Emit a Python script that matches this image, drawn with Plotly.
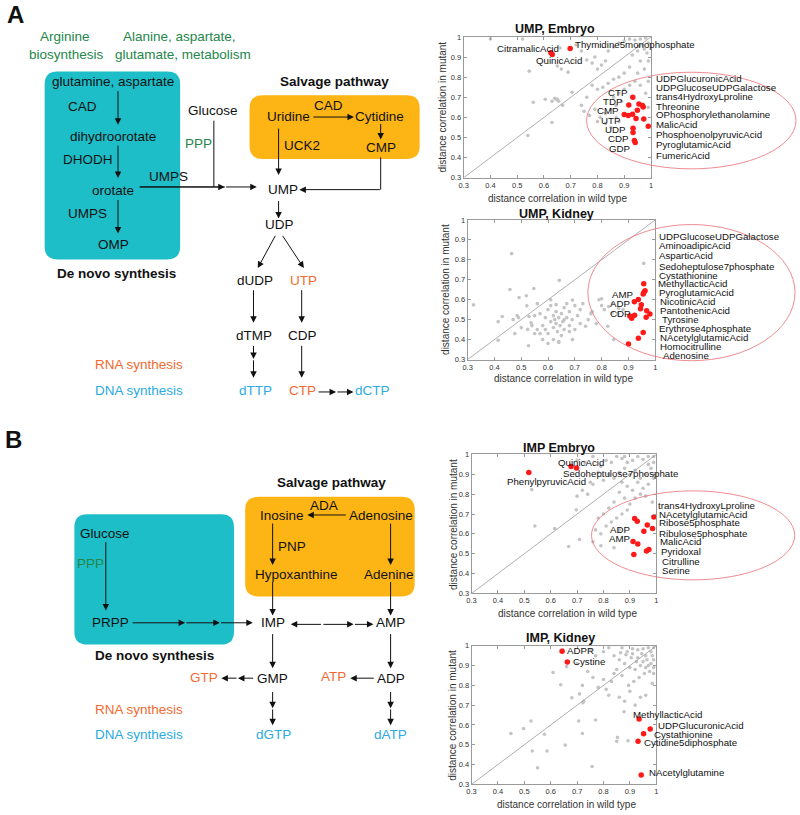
import plotly.graph_objects as go

W, H = 800, 815
FONT = "Liberation Sans, Arial, sans-serif"
BLACK = "#111111"
GREEN = "#24864A"
ORANGE = "#F26A31"
BLUE = "#2AABE2"
TEAL = "#1EBEC8"
GOLD = "#FDB515"
GREY_PT = "#c4c4c4"
RED_PT = "#ff1a1a"

# ---------------- scatter data ----------------
ump_emb_grey_x = [0.40,0.52,0.545,0.56,0.54,0.605,0.63,0.64,0.645,0.65,0.655,0.67,0.63,0.65,0.665,0.69,0.705,0.66,0.72,0.74,0.76,0.78,0.80,0.815,0.79,0.83,0.84,0.86,0.88,0.90,0.92,0.94,0.96,0.98,0.99,0.97,0.95,0.93,0.975,0.985,0.96,0.99,0.975,0.95,0.92,0.90,0.88,0.86,0.84,0.82,0.80,0.78,0.76,0.74,0.75,0.77,0.79,0.81,0.83,0.85,0.87,0.89,0.86,0.88,0.90,0.92,0.94,0.96,0.99,0.98,0.99,0.83,0.85,0.80,0.87,0.88,0.955]
ump_emb_grey_y = [0.99,0.99,0.83,0.675,0.51,0.69,0.68,0.695,0.69,0.69,0.68,0.66,0.575,0.855,0.84,0.825,0.725,0.945,0.96,0.93,0.885,0.87,0.84,0.86,0.90,0.88,0.93,0.95,0.97,0.98,0.99,0.985,0.99,0.995,0.97,0.96,0.93,0.91,0.94,0.92,0.88,0.88,0.84,0.82,0.85,0.82,0.80,0.79,0.77,0.75,0.74,0.76,0.70,0.66,0.63,0.61,0.64,0.60,0.62,0.64,0.66,0.68,0.70,0.72,0.74,0.76,0.78,0.76,0.78,0.72,0.65,0.57,0.55,0.58,0.60,0.58,0.955]
ump_emb_red_x = [0.698,0.626,0.631,0.932,0.917,0.955,0.971,0.968,0.949,0.900,0.915,0.931,0.944,0.973,0.990,0.933,0.933,0.938,0.941]
ump_emb_red_y = [0.943,0.921,0.913,0.700,0.662,0.667,0.652,0.659,0.636,0.615,0.610,0.616,0.595,0.592,0.556,0.546,0.525,0.485,0.475]

ump_kid_grey_x = [0.322,0.464,0.458,0.429,0.414,0.492,0.485,0.49,0.476,0.414,0.547,0.519,0.521,0.529,0.537,0.524,0.527,0.642,0.691,0.691,0.74,0.765,0.79,0.80,0.826,0.839,0.823,0.845,0.957,0.863,0.88,
                  0.56,0.57,0.58,0.59,0.60,0.60,0.61,0.61,0.62,0.62,0.625,0.63,0.63,0.635,0.64,0.64,0.645,0.65,0.65,0.655,0.66,0.66,0.67,0.67,0.68,0.68,0.69,0.70,0.71,0.72,0.73,0.75,0.58,0.55,0.56,0.59,0.62,0.64,0.60,0.57,0.61,0.63,0.66,0.68,0.54,0.55,0.70,0.72,0.78,0.76,0.80,0.81,0.84,0.86,0.50,0.47]
ump_kid_grey_y = [0.574,0.831,0.651,0.516,0.49,0.611,0.52,0.51,0.43,0.397,0.656,0.62,0.569,0.516,0.484,0.451,0.369,0.697,0.598,0.40,0.467,0.54,0.60,0.605,0.566,0.533,0.467,0.40,0.782,0.557,0.55,
                  0.45,0.53,0.47,0.51,0.55,0.43,0.49,0.57,0.46,0.52,0.50,0.48,0.54,0.44,0.51,0.39,0.47,0.53,0.42,0.49,0.56,0.45,0.51,0.58,0.47,0.54,0.50,0.57,0.52,0.55,0.58,0.50,0.40,0.52,0.58,0.45,0.40,0.385,0.38,0.43,0.60,0.575,0.50,0.44,0.47,0.43,0.45,0.48,0.48,0.53,0.57,0.55,0.58,0.53,0.46,0.50]
ump_kid_red_x = [0.957,0.962,0.958,0.955,0.922,0.937,0.948,0.945,0.968,0.980,0.966,0.905,0.912,0.923,0.955,0.937,0.900]
ump_kid_red_y = [0.680,0.645,0.637,0.628,0.590,0.601,0.575,0.555,0.544,0.528,0.512,0.518,0.507,0.522,0.436,0.407,0.378]

imp_emb_grey_x = [0.528,0.54,0.615,0.668,0.709,0.697,0.70,0.72,0.74,0.76,0.75,0.70,0.73,0.76,0.79,0.81,0.83,0.85,0.87,0.89,0.91,0.93,0.95,0.97,0.99,0.98,0.96,0.94,0.92,0.90,0.88,0.86,0.84,0.82,0.80,0.87,0.89,0.91,0.93,0.95,0.97,0.99,0.86,0.88,0.84,0.82,0.80,0.78,0.77,0.79,0.81,0.83,0.85,0.87,0.89,0.86,0.84,0.79,0.76,0.90,0.92,0.94,0.96,0.985,0.97,0.99,0.88,0.78]
imp_emb_grey_y = [0.823,0.64,0.627,0.536,0.572,0.721,0.79,0.82,0.80,0.85,0.86,0.97,0.96,0.99,0.94,0.97,0.96,0.99,0.98,0.96,0.97,0.99,0.975,0.95,0.96,0.93,0.90,0.88,0.92,0.90,0.93,0.91,0.88,0.90,0.87,0.86,0.84,0.82,0.86,0.83,0.85,0.88,0.81,0.78,0.76,0.73,0.70,0.68,0.62,0.60,0.64,0.66,0.68,0.70,0.72,0.62,0.53,0.54,0.56,0.75,0.78,0.80,0.79,0.76,0.99,0.99,0.99,0.91]
imp_emb_red_x = [0.517,0.677,0.698,0.991,0.918,0.928,0.966,0.986,0.953,0.912,0.930,0.972,0.963,0.915]
imp_emb_red_y = [0.909,0.940,0.932,0.685,0.677,0.664,0.645,0.627,0.613,0.561,0.549,0.521,0.514,0.496]

imp_kid_grey_x = [0.449,0.497,0.525,0.53,0.55,0.586,0.576,0.655,0.609,0.638,0.68,0.709,0.725,0.722,0.706,0.72,0.77,0.757,0.878,0.853,0.85,0.893,0.66,0.645,0.72,0.76,0.78,0.80,0.82,0.84,0.86,0.88,0.90,0.92,0.94,0.96,0.985,0.99,0.99,0.97,0.95,0.93,0.91,0.89,0.87,0.80,0.82,0.84,0.86,0.88,0.90,0.92,0.94,0.96,0.98,0.97,0.95,0.93,0.91,0.99,0.985,0.965,0.945,0.925,0.905,0.885,0.865,0.85,0.83,0.81,0.74,0.70,0.975,0.955,0.935,0.915,0.895,0.87,0.77,0.75,0.99,0.98,0.96]
imp_kid_grey_y = [0.557,0.582,0.62,0.468,0.383,0.468,0.553,0.498,0.865,0.803,0.737,0.757,0.72,0.712,0.62,0.557,0.625,0.39,0.667,0.537,0.517,0.52,0.895,0.98,0.80,0.84,0.79,0.83,0.75,0.86,0.74,0.72,0.77,0.70,0.74,0.75,0.81,0.86,0.89,0.90,0.92,0.94,0.96,0.97,0.99,0.97,0.99,0.95,0.93,0.91,0.89,0.88,0.90,0.95,0.97,0.99,0.985,0.98,0.985,0.99,0.95,0.93,0.96,0.92,0.94,0.955,0.965,0.88,0.82,0.78,0.87,0.91,0.87,0.86,0.84,0.82,0.80,0.85,0.95,0.98,0.93,0.91,0.89]
imp_kid_red_x = [0.643,0.663,0.935,0.977,0.952,0.931,0.943]
imp_kid_red_y = [0.973,0.918,0.630,0.580,0.555,0.518,0.347]

tick_vals = [0.3, 0.4, 0.5, 0.6, 0.7, 0.8, 0.9, 1.0]
tick_text = ["0.3", "0.4", "0.5", "0.6", "0.7", "0.8", "0.9", "1"]

panel_titles = ["UMP, Embryo", "UMP, Kidney", "IMP Embryo", "IMP, Kidney"]
xlabel = "distance correlation in wild type"
ylabel = "distance correlation in mutant"

ump_emb_top_labels = ["Thymidine5monophosphate", "CitramalicAcid", "QuinicAcid"]
ump_emb_left_labels = ["CTP", "TDP", "CMP", "UTP", "UDP", "CDP", "GDP"]
ump_emb_right_labels = ["UDPGlucuronicAcid", "UDPGlucoseUDPGalactose", "trans4HydroxyLproline", "Threonine",
                        "OPhosphorylethanolamine", "MalicAcid", "PhosphoenolpyruvicAcid", "PyroglutamicAcid", "FumericAcid"]
ump_kid_left_labels = ["AMP", "ADP", "CDP"]
ump_kid_right_labels = ["UDPGlucoseUDPGalactose", "AminoadipicAcid", "AsparticAcid", "Sedoheptulose7phosphate",
                        "Cystathionine", "MethyllacticAcid", "PyroglutamicAcid", "NicotinicAcid", "PantothenicAcid",
                        "Tyrosine", "Erythrose4phosphate", "NAcetylglutamicAcid", "Homocitrulline", "Adenosine"]
imp_emb_top_labels = ["QuinicAcid", "Sedoheptulose7phosphate", "PhenylpyruvicAcid"]
imp_emb_left_labels = ["ADP", "AMP"]
imp_emb_right_labels = ["trans4HydroxyLproline", "NAcetylglutamicAcid", "Ribose5phosphate", "Ribulose5phosphate",
                        "MalicAcid", "Pyridoxal", "Citrulline", "Serine"]
imp_kid_labels = ["ADPR", "Cystine", "MethyllacticAcid", "UDPGlucuronicAcid", "Cystathionine",
                  "Cytidine5diphosphate", "NAcetylglutamine"]

# ---------------- layout helpers (pixel -> paper) ----------------
def px(x):
    return x / W

def py(y):
    return 1 - y / H

annotations = []
shapes = []

def text(t, x, y, color=BLACK, size=13.5, bold=False, anchor="center", angle=0):
    annotations.append(dict(
        x=px(x), y=py(y), xref="paper", yref="paper",
        text=("<b>%s</b>" % t) if bold else t, showarrow=False,
        xanchor=anchor, yanchor="middle", textangle=angle, borderpad=0,
        font=dict(family=FONT, size=size, color=color)))

def arrow(tx, ty, hx, hy):
    annotations.append(dict(
        x=px(hx), y=py(hy), xref="paper", yref="paper",
        ax=tx - hx, ay=ty - hy, axref="pixel", ayref="pixel",
        text="", showarrow=True, arrowhead=2, arrowsize=1.3,
        arrowwidth=1, arrowcolor=BLACK, standoff=0, startstandoff=0))

def line(x0, y0, x1, y1):
    shapes.append(dict(type="line", xref="paper", yref="paper",
                       x0=px(x0), y0=py(y0), x1=px(x1), y1=py(y1),
                       line=dict(color=BLACK, width=1)))

def rrect(x0, y0, x1, y1, r, color):
    pts = [("M", x0 + r, y0), ("L", x1 - r, y0), ("Q", x1, y0, x1, y0 + r),
           ("L", x1, y1 - r), ("Q", x1, y1, x1 - r, y1), ("L", x0 + r, y1),
           ("Q", x0, y1, x0, y1 - r), ("L", x0, y0 + r), ("Q", x0, y0, x0 + r, y0)]
    s = ""
    for p in pts:
        cmd = p[0]
        coords = p[1:]
        c = []
        for i in range(0, len(coords), 2):
            c.append("%.5f,%.5f" % (px(coords[i]), py(coords[i + 1])))
        s += cmd + " ".join(c) + " "
    s += "Z"
    shapes.append(dict(type="path", xref="paper", yref="paper", path=s,
                       fillcolor=color, line=dict(width=0), layer="below"))

def ellipse(x0, y0, x1, y1):
    shapes.append(dict(type="circle", xref="paper", yref="paper",
                       x0=px(x0), x1=px(x1), y0=py(y1), y1=py(y0),
                       line=dict(color="rgba(236,120,125,0.85)", width=1)))

# ---------------- panel A diagram ----------------
rrect(40, 68.3, 176.7, 258.3, 13, TEAL)
rrect(246.7, 92.3, 418.3, 156.7, 13, GOLD)

text("A", 11, 11, size=24, bold=True)
text("Arginine", 61, 32.5, GREEN)
text("biosynthesis", 61.7, 51, GREEN)
text("Alanine, aspartate,", 175.7, 32.5, GREEN)
text("glutamate, metabolism", 179.3, 51, GREEN)
text("glutamine, aspartate", 109, 78.5)
text("CAD", 78.3, 104)
text("dihydroorotate", 109, 134)
text("DHODH", 83.3, 157.5)
text("orotate", 109, 189)
text("UMPS", 83.3, 212.3)
text("OMP", 109, 242.7)
text("De novo synthesis", 112.7, 272.3, bold=True)
text("Glucose", 210, 108)
text("PPP", 195.7, 141, GREEN)
text("UMPS", 165, 174.3)
text("Salvage pathway", 332.7, 78, bold=True)
text("Uridine", 285.7, 114)
text("CAD", 326.7, 103)
text("Cytidine", 378.3, 114)
text("UCK2", 300, 143.3)
text("CMP", 379.3, 145)
text("UMP", 280, 187.7)
text("UDP", 276.7, 222.7)
text("dUDP", 252.3, 279.3)
text("UTP", 301, 279.3, ORANGE)
text("dTMP", 251.7, 335)
text("CDP", 300, 335)
text("RNA synthesis", 135, 365, ORANGE)
text("DNA synthesis", 135, 391, BLUE)
text("dTTP", 252.3, 391, BLUE)
text("CTP", 300, 391, ORANGE)
text("dCTP", 370.7, 391, BLUE)

arrow(114, 87, 114, 122)
arrow(114, 142, 114, 176)
arrow(114, 197, 114, 232)
line(135.7, 185, 221.7, 185)
arrow(135.7, 185, 221.7, 185)
arrow(221.7, 185, 254, 185)
line(210.7, 118, 210.7, 185)
arrow(310, 114.3, 352, 114.3)
arrow(379, 120, 379, 137)
arrow(276, 125, 276, 173)
line(379, 155, 379, 187.7)
arrow(379, 187.7, 297, 187.7)
arrow(276, 198, 276, 217)
arrow(273.3, 233.3, 255, 267)
arrow(279.3, 233.3, 301.5, 267)
arrow(250.7, 288.3, 250.7, 322.3)
arrow(299.3, 288.3, 299.3, 322.3)
arrow(250.7, 344.5, 250.7, 359)
arrow(250.7, 359, 250.7, 378)
arrow(299.3, 344.5, 299.3, 378)
arrow(315, 392.3, 334, 392.3)
arrow(334, 392.3, 351.5, 392.3)

# ---------------- panel B diagram ----------------
rrect(70, 516, 231, 647.7, 13, TEAL)
rrect(242.3, 498.3, 413.3, 599, 13, GOLD)

text("B", 9, 440.5, size=24, bold=True)
text("Salvage pathway", 329, 484.3, bold=True)
text("ADA", 322.3, 507.3)
text("Inosine", 279.3, 517.3)
text("Adenosine", 379.3, 517.3)
text("PNP", 289.3, 548.3)
text("Hypoxanthine", 294.3, 576.7)
text("Adenine", 387.3, 576.7)
text("Glucose", 101, 535)
text("PPP", 86, 566, GREEN)
text("PRPP", 106, 625.7)
text("IMP", 270, 625.7)
text("AMP", 389.3, 625.7)
text("De novo synthesis", 150.7, 659, bold=True)
text("GTP", 201, 680.7, ORANGE)
text("GMP", 270, 681.7)
text("ATP", 331.7, 680, ORANGE)
text("ADP", 389.3, 681.7)
text("RNA synthesis", 135, 713.3, ORANGE)
text("DNA synthesis", 135, 739, BLUE)
text("dGTP", 270.7, 739, BLUE)
text("dATP", 389.3, 739, BLUE)

arrow(345, 516.7, 305, 516.7)
arrow(270, 524.3, 270, 567.3)
arrow(389, 524.3, 389, 567.3)
arrow(270, 583.3, 270, 618.3)
arrow(389, 583.3, 389, 618.3)
arrow(101.7, 543.3, 101.7, 613.3)
arrow(127.7, 625.7, 181.7, 625.7)
arrow(181.7, 625.7, 216.7, 625.7)
arrow(216.7, 625.7, 250, 625.7)
arrow(320, 627.3, 288.3, 627.3)
arrow(320, 627.3, 351.7, 627.3)
arrow(351.7, 627.3, 371.7, 627.3)
arrow(270, 636, 270, 671.7)
arrow(389, 636, 389, 671.7)
arrow(251.7, 681.7, 235, 681.7)
arrow(235, 681.7, 218.3, 681.7)
arrow(373.3, 681.7, 348.3, 681.7)
arrow(270, 694.3, 270, 712)
arrow(270, 712, 270, 729.3)
arrow(389, 694.3, 389, 712)
arrow(389, 712, 389, 729.3)

# ---------------- scatter panels ----------------
boxes = [  # left, right, top, bottom in pixels
    (462.7, 651.7, 33.3, 175.7),
    (466.7, 656.0, 218.3, 359.5),
    (470.7, 657.0, 455.5, 596.0),
    (470.7, 657.0, 649.0, 789.0),
]
title_pos = [(555, 25), (556.7, 212), (559, 448.5), (560.7, 641)]
xlab_pos = [(557.7, 196.7), (563.3, 379), (567.7, 616), (566.7, 809)]
ylab_pos = [(441, 104.5), (445, 289), (451.7, 526), (450.7, 719)]

series = [
    (ump_emb_grey_x, ump_emb_grey_y, ump_emb_red_x, ump_emb_red_y),
    (ump_kid_grey_x, ump_kid_grey_y, ump_kid_red_x, ump_kid_red_y),
    (imp_emb_grey_x, imp_emb_grey_y, imp_emb_red_x, imp_emb_red_y),
    (imp_kid_grey_x, imp_kid_grey_y, imp_kid_red_x, imp_kid_red_y),
]

fig = go.Figure()
layout_axes = {}
for i, (b, s) in enumerate(zip(boxes, series)):
    n = "" if i == 0 else str(i + 1)
    xa, ya = "x" + n, "y" + n
    gx, gy, rx, ry = s
    fig.add_trace(go.Scatter(x=gx, y=gy, mode="markers", xaxis=xa, yaxis=ya,
                             marker=dict(size=3.6, color=GREY_PT, line=dict(width=0)),
                             hoverinfo="skip"))
    fig.add_trace(go.Scatter(x=rx, y=ry, mode="markers", xaxis=xa, yaxis=ya,
                             marker=dict(size=5.5, color=RED_PT, line=dict(width=0)),
                             hoverinfo="skip"))
    common = dict(range=[0.3, 1.0], tickvals=tick_vals, ticktext=tick_text,
                  ticks="inside", ticklen=3, tickcolor="#9a9a9a", showline=True,
                  linecolor="#9a9a9a", linewidth=1, mirror="ticks", showgrid=False,
                  zeroline=False, tickfont=dict(family=FONT, size=7.5, color="#333"))
    layout_axes["xaxis" + n] = dict(domain=[px(b[0]), px(b[1])], anchor=ya, **common)
    layout_axes["yaxis" + n] = dict(domain=[py(b[3]), py(b[2])], anchor=xa, **common)
    shapes.append(dict(type="line", xref=xa, yref=ya, x0=0.3, y0=0.3, x1=1, y1=1,
                       line=dict(color="#9a9a9a", width=0.8)))
    text(panel_titles[i], title_pos[i][0], title_pos[i][1], size=12.5, bold=True)
    text(xlabel, xlab_pos[i][0], xlab_pos[i][1], color="#333", size=10)
    text(ylabel, ylab_pos[i][0], ylab_pos[i][1], color="#333", size=10, angle=-90)

# ellipses
ellipse(586.7, 69, 798, 166.7)
ellipse(588, 223, 797, 360.7)
ellipse(591.7, 492.3, 796.7, 582.3)

LS = 9.7
# UMP embryo labels
text(ump_emb_top_labels[0], 574, 40.7, size=LS, anchor="left")
text(ump_emb_top_labels[1], 527.7, 45, size=LS)
text(ump_emb_top_labels[2], 559, 57.3, size=LS)
for t, (x, y) in zip(ump_emb_left_labels, [(617.7, 89.3), (613.3, 98.7), (608.3, 108), (611.3, 117.3),
                                          (615, 126.7), (618, 136.3), (620, 145.7)]):
    text(t, x, y, size=LS)
for t, y in zip(ump_emb_right_labels, [75.7, 84.7, 94, 103.3, 112, 122, 131.7, 141.7, 152.7]):
    text(t, 655.5, y, size=LS, anchor="left")

# UMP kidney labels
for t, (x, y) in zip(ump_kid_left_labels, [(622.7, 293.3), (620, 303.3), (620, 312.7)]):
    text(t, x, y, size=LS)
for t, x, y in zip(ump_kid_right_labels,
                   [659, 659, 659, 658.5, 658.5, 658, 658.5, 660, 660, 661.7, 658.5, 660, 660, 662.7],
                   [234.7, 244.3, 254, 265.3, 274.7, 282.7, 291.7, 300.7, 310, 318.7, 328, 337.3, 346, 355.3]):
    text(t, x, y, size=LS, anchor="left")

# IMP embryo labels
for t, (x, y) in zip(imp_emb_top_labels, [(581, 463.3), (620.7, 474.3), (546, 482.7)]):
    text(t, x, y, size=LS)
for t, (x, y) in zip(imp_emb_left_labels, [(620.3, 531.3), (620.3, 540.7)]):
    text(t, x, y, size=LS)
for t, x, y in zip(imp_emb_right_labels,
                   [657.3, 658.3, 658.3, 659, 659.7, 660.7, 661.7, 661.7],
                   [507.3, 516, 524.3, 535.3, 544, 554, 563.3, 573.3]):
    text(t, x, y, size=LS, anchor="left")

# IMP kidney labels
for t, (x, y, a) in zip(imp_kid_labels, [(566, 653.3, "left"), (571.7, 665, "left"), (668.3, 718.3, "center"),
                                         (657.7, 730, "left"), (653.3, 738.3, "left"),
                                         (643.3, 746.7, "left"), (648.3, 776.7, "left")]):
    text(t, x, y, size=LS, anchor=a)

fig.update_layout(
    width=W, height=H, margin=dict(l=0, r=0, t=0, b=0),
    paper_bgcolor="white", plot_bgcolor="rgba(0,0,0,0)",
    showlegend=False, annotations=annotations, shapes=shapes,
    font=dict(family=FONT), **layout_axes)

fig.write_html("out.html", config={"displayModeBar": False},
               post_script="document.body.style.margin='0';document.body.style.overflow='hidden';")
